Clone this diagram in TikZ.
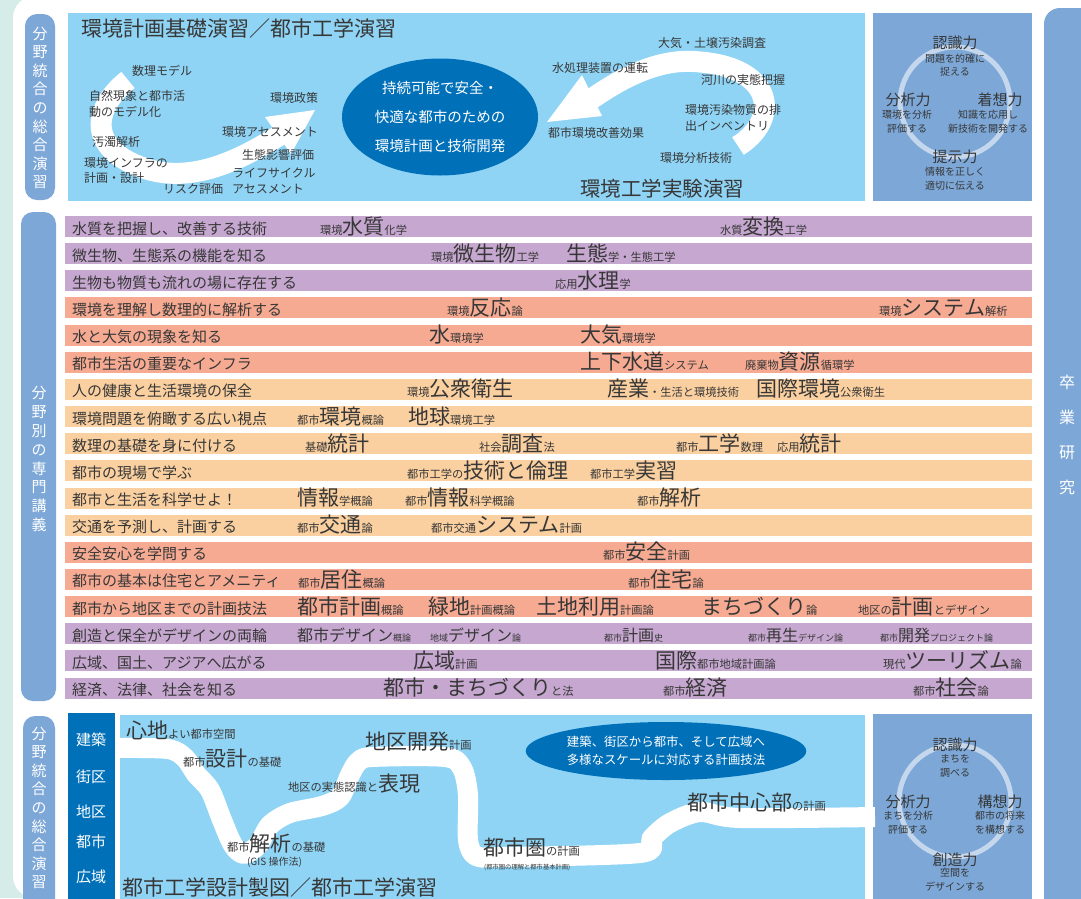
\documentclass[tikz,border=0pt]{standalone}
\usepackage{fontspec}
\setmainfont{Noto Sans CJK JP}
\usetikzlibrary{shapes.geometric}
\definecolor{mint}{RGB}{214,236,232}
\definecolor{lblue}{RGB}{143,212,245}
\definecolor{dblue}{RGB}{0,112,185}
\definecolor{sblue}{RGB}{124,167,215}
\definecolor{ringc}{RGB}{196,215,237}
\definecolor{txt}{RGB}{55,55,55}
\definecolor{rpur}{RGB}{198,167,208}
\definecolor{rsal}{RGB}{246,170,146}
\definecolor{rora}{RGB}{251,208,160}
\newcommand{\sm}[1]{{\fontsize{11.25}{12}\selectfont #1}}
\newcommand{\bg}[1]{{\fontsize{21}{22}\selectfont #1}}
\newcommand{\smm}[1]{{\fontsize{9}{10}\selectfont #1}}
\newcommand{\bgm}[1]{{\fontsize{16}{17}\selectfont #1}}
\newcommand{\crs}[4]{\node[crs] (#1) at (#2,#3) {#4};}
\begin{document}
\begin{tikzpicture}[x=1pt,y=-1pt,
  crs/.style={anchor=base west, inner sep=0pt, text=txt},
  rowlab/.style={anchor=base west, inner sep=0pt, text=txt, font=\fontsize{15}{16}\selectfont},
  lab/.style={anchor=west, inner sep=0pt, text=txt, align=left, font=\fontsize{12}{15.5}\selectfont},
  vlab/.style={inner sep=0pt, text=white, align=center},
  panel/.style={fill=lblue},
  spanel/.style={fill=sblue},
  band/.style={draw=white, line width=21pt},
  head/.style={fill=white},
  ring/.style={draw=ringc, line width=5pt},
  ctitle/.style={inner sep=0pt, text=txt, font=\fontsize{15}{16}\selectfont},
  csub/.style={inner sep=0pt, text=txt, align=center, font=\fontsize{10}{13.5}\selectfont},
  ptitle/.style={anchor=base west, inner sep=0pt, text=txt, font=\fontsize{21}{22}\selectfont},
  colw/.style={inner sep=0pt, text=white, font=\fontsize{15}{16}\selectfont},
]
\useasboundingbox (0,0) rectangle (1081,898);
\fill[mint] (0,0) rectangle (1081,898);
\fill[white, rounded corners=22pt] (13,-4) rectangle (1120,898);

% side label boxes
\fill[sblue, rounded corners=12pt] (25,14) rectangle (55,200);
\node[vlab, font=\fontsize{15}{18.6}\selectfont] (lt) at (40,108) {分\\野\\統\\合\\の\\総\\合\\演\\習};
\fill[sblue, rounded corners=12pt] (21,212) rectangle (56,701);
\node[vlab, font=\fontsize{15}{18.9}\selectfont] (lm) at (39,459) {分\\野\\別\\の\\専\\門\\講\\義};
\fill[sblue, rounded corners=12pt] (23,716) rectangle (55,920);
\node[vlab, font=\fontsize{15}{18.6}\selectfont] (lb) at (39,808) {分\\野\\統\\合\\の\\総\\合\\演\\習};
\fill[sblue, rounded corners=16pt] (1044,8) rectangle (1110,920);
\node[vlab, font=\fontsize{16}{35}\selectfont] (sot) at (1067,435) {卒\\業\\研\\究};

% ===== top panel =====
\fill[panel] (68,13) rectangle (865,201);
\fill[spanel] (873,13) rectangle (1032,201);
\draw[band] (128,80) .. controls (90,110) and (88,152) .. (150,170) .. controls (195,182) and (240,160) .. (280,135);
\fill[head] (265,117) -- (315,110) -- (291,154) -- cycle;
\draw[band] (738,146) .. controls (780,120) and (775,68) .. (700,62) .. controls (665,58) and (630,72) .. (590,100);
\fill[head] (582,75) -- (547,122) -- (602,116) -- cycle;
\node[ellipse, fill=dblue, minimum width=196pt, minimum height=117pt, inner sep=0pt, text=white, align=center, font=\fontsize{14.5}{29}\selectfont] (goal) at (440,117) {持続可能で安全・\\快適な都市のための\\環境計画と技術開発};
\node[ptitle] (t1) at (81,36.5) {環境計画基礎演習／都市工学演習};
\node[lab] (m1) at (132,71) {数理モデル};
\node[lab] (m2) at (89,104) {自然現象と都市活\\動のモデル化};
\node[lab] (m3) at (270,98) {環境政策};
\node[lab] (m4) at (222,132) {環境アセスメント};
\node[lab] (m5) at (92,142) {汚濁解析};
\node[lab] (m6) at (242,155) {生態影響評価};
\node[lab] (m7) at (84,170.5) {環境インフラの\\計画・設計};
\node[lab] (m8) at (232,181) {ライフサイクル\\アセスメント};
\node[lab] (m9) at (163,189) {リスク評価};
\node[lab] (e1) at (658,43) {大気・土壌汚染調査};
\node[lab] (e2) at (552,68) {水処理装置の運転};
\node[lab] (e3) at (701,80) {河川の実態把握};
\node[lab] (e4) at (685,118) {環境汚染物質の排\\出インベントリ};
\node[lab] (e5) at (548,133) {都市環境改善効果};
\node[lab] (e6) at (660,158) {環境分析技術};
\node[ptitle, font=\fontsize{20.5}{21}\selectfont] (t2) at (580,196) {環境工学実験演習};
\draw[ring] (955,102) circle[radius=55pt];
\node[ctitle] (k1) at (955,43) {認識力};
\node[csub] (k1s) at (955,65) {問題を的確に\\捉える};
\node[ctitle] (k2) at (908,100) {分析力};
\node[csub] (k2s) at (907,121.5) {環境を分析\\評価する};
\node[ctitle] (k3) at (1000,100) {着想力};
\node[csub] (k3s) at (988,121.5) {知識を応用し\\新技術を開発する};
\node[ctitle] (k4) at (955,157) {提示力};
\node[csub] (k4s) at (955,178.5) {情報を正しく\\適切に伝える};

% ===== rows =====
\foreach \i/\rcol/\rtext in {
 1/rpur/水質を把握し、改善する技術,
 2/rpur/微生物、生態系の機能を知る,
 3/rpur/生物も物質も流れの場に存在する,
 4/rsal/環境を理解し数理的に解析する,
 5/rsal/水と大気の現象を知る,
 6/rsal/都市生活の重要なインフラ,
 7/rora/人の健康と生活環境の保全,
 8/rora/環境問題を俯瞰する広い視点,
 9/rora/数理の基礎を身に付ける,
 10/rora/都市の現場で学ぶ,
 11/rora/都市と生活を科学せよ！,
 12/rora/交通を予測し、計画する,
 13/rsal/安全安心を学問する,
 14/rsal/都市の基本は住宅とアメニティ,
 15/rsal/都市から地区までの計画技法,
 16/rpur/創造と保全がデザインの両輪,
 17/rpur/広域、国土、アジアへ広がる,
 18/rpur/経済、法律、社会を知る}{
  \fill[\rcol] (65,{216+27.15*(\i-1)}) rectangle (1032,{237+27.15*(\i-1)});
  \node[rowlab] (row\i) at (72,{234+27.15*(\i-1)}) {\rtext};
}
\crs{c1a}{320}{234}{\sm{環境}\bg{水質}\sm{化学}}
\crs{c1b}{720}{234}{\sm{水質}\bg{変換}\sm{工学}}
\crs{c2a}{431}{261.2}{\sm{環境}\bg{微生物}\sm{工学}}
\crs{c2b}{566}{261.2}{\bg{生態}\sm{学・生態工学}}
\crs{c3a}{555}{288.3}{\sm{応用}\bg{水理}\sm{学}}
\crs{c4a}{447}{315.5}{\sm{環境}\bg{反応}\sm{論}}
\crs{c4b}{879}{315.5}{\sm{環境}\bg{システム}\sm{解析}}
\crs{c5a}{429}{342.6}{\bg{水}\sm{環境学}}
\crs{c5b}{580}{342.6}{\bg{大気}\sm{環境学}}
\crs{c6a}{580}{369.8}{\bg{上下水道}\sm{システム}}
\crs{c6b}{745}{369.8}{\sm{廃棄物}\bg{資源}\sm{循環学}}
\crs{c7a}{407}{396.9}{\sm{環境}\bg{公衆衛生}}
\crs{c7b}{607}{396.9}{\bg{産業}\sm{・生活と環境技術}}
\crs{c7c}{756}{396.9}{\bg{国際環境}\sm{公衆衛生}}
\crs{c8a}{297}{424.1}{\sm{都市}\bg{環境}\sm{概論}}
\crs{c8b}{408}{424.1}{\bg{地球}\sm{環境工学}}
\crs{c9a}{305}{451.2}{\sm{基礎}\bg{統計}}
\crs{c9b}{479}{451.2}{\sm{社会}\bg{調査}\sm{法}}
\crs{c9c}{676}{451.2}{\sm{都市}\bg{工学}\sm{数理}}
\crs{c9d}{777}{451.2}{\sm{応用}\bg{統計}}
\crs{c10a}{407}{478.4}{\sm{都市工学の}\bg{技術と倫理}}
\crs{c10b}{590}{478.4}{\sm{都市工学}\bg{実習}}
\crs{c11a}{297}{505.5}{\bg{情報}\sm{学概論}}
\crs{c11b}{405}{505.5}{\sm{都市}\bg{情報}\sm{科学概論}}
\crs{c11c}{637}{505.5}{\sm{都市}\bg{解析}}
\crs{c12a}{297}{532.7}{\sm{都市}\bg{交通}\sm{論}}
\crs{c12b}{431}{532.7}{\sm{都市交通}\bg{システム}\sm{計画}}
\crs{c13a}{603}{559.8}{\sm{都市}\bg{安全}\sm{計画}}
\crs{c14a}{298}{587}{\sm{都市}\bg{居住}\sm{概論}}
\crs{c14b}{628}{587}{\sm{都市}\bg{住宅}\sm{論}}
\crs{c15a}{297}{614.1}{\bg{都市計画}\sm{概論}}
\crs{c15b}{428}{614.1}{\bg{緑地}\sm{計画概論}}
\crs{c15c}{536}{614.1}{\bg{土地利用}\sm{計画論}}
\crs{c15d}{701}{614.1}{\bg{まちづくり}\sm{論}}
\crs{c15e}{858}{614.1}{\sm{地区の}\bg{計画}\sm{とデザイン}}
\crs{c16a}{297}{641.3}{\bgm{都市デザイン}\smm{概論}}
\crs{c16b}{430}{641.3}{\smm{地域}\bgm{デザイン}\smm{論}}
\crs{c16c}{604}{641.3}{\smm{都市}\bgm{計画}\smm{史}}
\crs{c16d}{748}{641.3}{\smm{都市}\bgm{再生}\smm{デザイン論}}
\crs{c16e}{880}{641.3}{\smm{都市}\bgm{開発}\smm{プロジェクト論}}
\crs{c17a}{413}{668.4}{\bg{広域}\sm{計画}}
\crs{c17b}{655}{668.4}{\bg{国際}\sm{都市地域計画論}}
\crs{c17c}{883}{668.4}{\sm{現代}\bg{ツーリズム}\sm{論}}
\crs{c18a}{383}{695.6}{\bg{都市・まちづくり}\sm{と法}}
\crs{c18b}{663}{695.6}{\sm{都市}\bg{経済}}
\crs{c18c}{913}{695.6}{\sm{都市}\bg{社会}\sm{論}}

% ===== bottom panel =====
\fill[dblue] (68,713) rectangle (115,900);
\fill[panel] (120,715) rectangle (865,900);
\fill[spanel] (873,714) rectangle (1032,900);
\node[colw] (s1) at (91,740) {建築};
\node[colw] (s2) at (91,777) {街区};
\node[colw] (s3) at (91,812) {地区};
\node[colw] (s4) at (91,842) {都市};
\node[colw] (s5) at (91,877) {広域};
\draw[band, line width=20pt, line join=round] plot[smooth, tension=0.5] coordinates {
 (118,748) (168,749) (185,758) (196,774) (210,790) (222,820) (233,845) (244,854) (258,845)
 (270,825) (290,813) (322,806) (340,797) (350,775) (358,762) (372,757) (445,757) (462,768)
 (468,795) (468,840) (476,856) (500,857) (640,853) (652,838) (670,823) (700,812) (740,818) (875,817)};
\node[ellipse, fill=dblue, minimum width=262pt, minimum height=58pt, inner sep=0pt, text=white, align=center, font=\fontsize{12.4}{17.5}\selectfont] (scale) at (666,751) {建築、街区から都市、そして広域へ\\多様なスケールに対応する計画技法};
\node[crs] (b1) at (126,738) {\bg{心地}\sm{よい都市空間}};
\node[crs] (b2) at (183,766) {\sm{都市}\bg{設計}\sm{の基礎}};
\node[crs] (b3) at (365,749) {\bg{地区開発}\sm{計画}};
\node[crs] (b4) at (288,791) {\sm{地区の実態認識と}\bg{表現}};
\node[crs] (b5) at (227,851) {\sm{都市}\bg{解析}\sm{の基礎}};
\node[inner sep=0pt, text=txt, font=\fontsize{10}{11}\selectfont] (b5s) at (274.5,862) {(GIS 操作法)};
\node[crs] (b6) at (483,855) {\bg{都市圏}\sm{の計画}};
\node[anchor=west, inner sep=0pt, text=txt, font=\fontsize{6.3}{7}\selectfont] (b6s) at (484,867) {(都市圏の理解と都市基本計画)};
\node[crs] (b7) at (687,810) {\bg{都市中心部}\sm{の計画}};
\node[ptitle] (t3) at (122,895) {都市工学設計製図／都市工学演習};
\draw[ring] (955,801) circle[radius=56pt];
\node[ctitle] (n1) at (955,745) {認識力};
\node[csub] (n1s) at (955,766) {まちを\\調べる};
\node[ctitle] (n2) at (908,802) {分析力};
\node[csub] (n2s) at (908,822.5) {まちを分析\\評価する};
\node[ctitle] (n3) at (1000,802) {構想力};
\node[csub] (n3s) at (1000,822.5) {都市の将来\\を構想する};
\node[ctitle] (n4) at (955,860) {創造力};
\node[csub] (n4s) at (955,879.5) {空間を\\デザインする};
\end{tikzpicture}
\end{document}
